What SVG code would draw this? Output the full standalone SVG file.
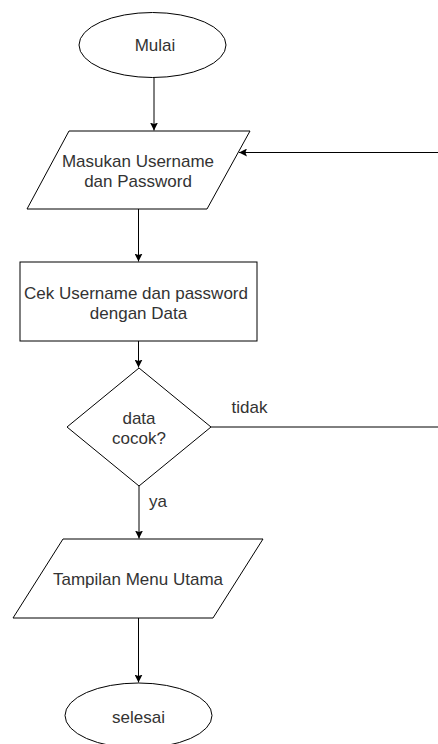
<svg xmlns="http://www.w3.org/2000/svg" width="438" height="744" viewBox="0 0 438 744">
<style>
.s{fill:#fff;stroke:#000;stroke-width:1}
.t{font-family:"Liberation Sans",Arial,sans-serif;font-size:17px;fill:#333;text-anchor:middle;dominant-baseline:central}
.c{fill:none;stroke:#000;stroke-width:1}
</style>
<defs>
<marker id="a" viewBox="0 0 10 10" refX="10" refY="5" markerWidth="8" markerHeight="8" markerUnits="userSpaceOnUse" orient="auto">
<path d="M0,0 L10,5 L0,10 L2,5 Z" fill="#000"/>
</marker>
</defs>
<g id="connectors">
<path class="c" d="M154,77.5 V130.5" marker-end="url(#a)"/>
<path class="c" d="M138.5,209 V261.5" marker-end="url(#a)"/>
<path class="c" d="M138.5,341 V367.5" marker-end="url(#a)"/>
<path class="c" d="M139,485.5 V538.5" marker-end="url(#a)"/>
<path class="c" d="M138.5,618 V682.5" marker-end="url(#a)"/>
<path class="c" d="M211,427 H441 V152.5 H239" marker-end="url(#a)"/>
<text class="t" x="249.5" y="407">tidak</text>
<text class="t" x="158" y="501">ya</text>
</g>
<g id="mulai">
<ellipse class="s" cx="152.5" cy="45" rx="73.5" ry="32.5"/>
<text class="t" x="155" y="45">Mulai</text>
</g>
<g id="masukan">
<polygon class="s" points="69,131 250,131 207,209 27,209"/>
<text class="t" x="138" y="161.5">Masukan Username</text>
<text class="t" x="138" y="181">dan Password</text>
</g>
<g id="cek">
<rect class="s" x="20" y="262" width="237" height="79"/>
<text class="t" x="136" y="293">Cek Username dan password</text>
<text class="t" x="138.5" y="313">dengan Data</text>
</g>
<g id="cocok">
<polygon class="s" points="139,368 211,427 139,486 67,427"/>
<text class="t" x="139" y="418">data</text>
<text class="t" x="139" y="438">cocok?</text>
</g>
<g id="tampilan">
<polygon class="s" points="63,539 263,539 213,618 13,618"/>
<text class="t" x="138" y="579">Tampilan Menu Utama</text>
</g>
<g id="selesai">
<ellipse class="s" cx="138.5" cy="715.5" rx="73.5" ry="32.5"/>
<text class="t" x="138.5" y="717">selesai</text>
</g>
</svg>
